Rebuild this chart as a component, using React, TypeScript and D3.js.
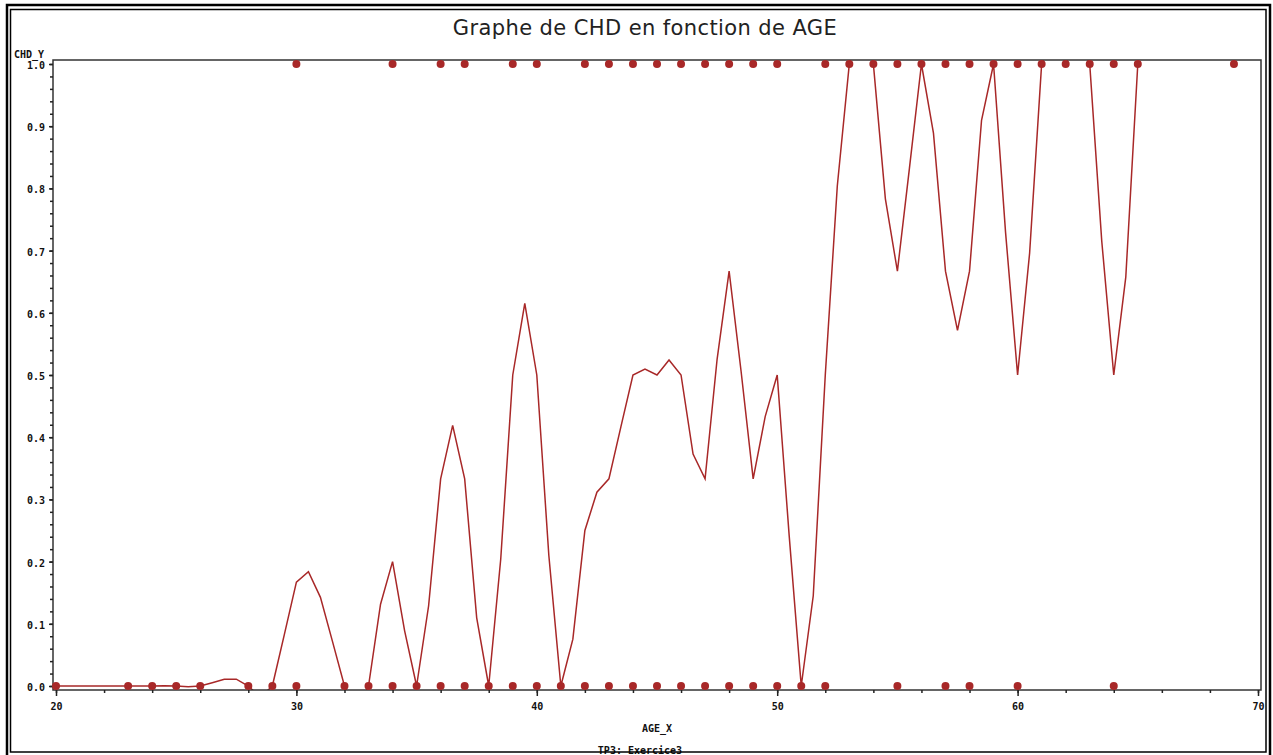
import * as d3 from "d3";
import { useEffect, useRef } from "react";

// ages present in the data, and mean CHD at each age (the line)
const AGE_LEVELS = [20, 23, 24, 25, 26, 28, 29, 30, 32, 33, 34, 35, 36, 37, 38, 39, 40, 41, 42, 43, 44, 45, 46, 47, 48, 49, 50, 51, 52, 53, 54, 55, 56, 57, 58, 59, 60, 61, 62, 63, 64, 65, 69];
const CHD_MEAN = [0, 0, 0, 0, 0, 0, 0, 0.167, 0, 0, 0.2, 0, 0.333, 0.333, 0, 0.5, 0.5, 0, 0.25, 0.333, 0.5, 0.5, 0.5, 0.333, 0.667, 0.333, 0.5, 0, 0.5, 1, 1, 0.667, 1, 0.667, 0.667, 1, 0.5, 1, 1, 1, 0.5, 1, 1];

// ages with at least one observation CHD = 0 / CHD = 1
const AGE_CHD0 = [20, 23, 24, 25, 26, 28, 29, 30, 32, 33, 34, 35, 36, 37, 38, 39, 40, 41, 42, 43, 44, 45, 46, 47, 48, 49, 50, 51, 52, 55, 57, 58, 60, 64];
const AGE_CHD1 = [30, 34, 36, 37, 39, 40, 42, 43, 44, 45, 46, 47, 48, 49, 50, 52, 53, 54, 55, 56, 57, 58, 59, 60, 61, 62, 63, 64, 65, 69];

const X_TICKS = [20, 30, 40, 50, 60, 70];
const Y_TICKS = [0, 0.1, 0.2, 0.3, 0.4, 0.5, 0.6, 0.7, 0.8, 0.9, 1.0];

const W = 1273, H = 755;
const RED = "#a82828";
const TICK_FONT = "'DejaVu Sans Mono', monospace";

// natural cubic spline y(x), drawn as a polyline sampled every `step` px
// (like the old SAS interpol=spline output)
const curveSampledSpline = (step: number) => (context: any) => {
    let xs: number[] = [], ys: number[] = [];
    return {
        areaStart() {}, areaEnd() {},
        lineStart() { xs = []; ys = []; },
        point(x: number, y: number) { xs.push(+x); ys.push(+y); },
        lineEnd() {
            const n = xs.length;
            if (n < 2) return;
            const h = d3.range(n - 1).map(i => xs[i + 1] - xs[i]);
            const M = new Array(n).fill(0);
            // tridiagonal solve for the second derivatives
            const c: number[] = new Array(n).fill(0), dd: number[] = new Array(n).fill(0);
            for (let i = 1; i < n - 1; i++) {
                const a = h[i - 1], b = 2 * (h[i - 1] + h[i]), cc = h[i];
                const r = 6 * ((ys[i + 1] - ys[i]) / h[i] - (ys[i] - ys[i - 1]) / h[i - 1]);
                const m = b - a * c[i - 1];
                c[i] = cc / m;
                dd[i] = (r - a * dd[i - 1]) / m;
            }
            for (let i = n - 2; i >= 1; i--) M[i] = dd[i] - c[i] * M[i + 1];
            const S = (i: number, t: number) => {
                const hi = h[i], A = xs[i + 1] - t, B = t - xs[i];
                return M[i] * A * A * A / (6 * hi) + M[i + 1] * B * B * B / (6 * hi)
                    + (ys[i] / hi - M[i] * hi / 6) * A + (ys[i + 1] / hi - M[i + 1] * hi / 6) * B;
            };
            context.moveTo(xs[0], ys[0]);
            for (let i = 0; i < n - 1; i++) {
                const k = Math.max(1, Math.round(h[i] / step));
                for (let j = 1; j <= k; j++) {
                    const t = xs[i] + h[i] * j / k;
                    context.lineTo(t, j === k ? ys[i + 1] : S(i, t));
                }
            }
        }
    };
};

const App = () => {
    const ref = useRef<SVGSVGElement>(null);

    useEffect(() => {
        const svg = d3.select(ref.current);
        svg.selectAll("*").remove();

        const x = d3.scaleLinear().domain([20, 70]).range([56, 1258]);
        const y = d3.scaleLinear().domain([0, 1]).range([686, 64]);
        const frame = { left: 53, right: 1261, top: 60, bottom: 690 };

        svg.append("rect").attr("width", W).attr("height", H).attr("fill", "white");

        // title
        svg.append("text")
            .attr("x", 645).attr("y", 35)
            .attr("text-anchor", "middle")
            .style("font-family", "'DejaVu Sans', sans-serif")
            .style("font-size", "21px")
            .style("letter-spacing", "0.4px")
            .attr("fill", "#222")
            .text("Graphe de CHD en fonction de AGE");

        svg.append("clipPath").attr("id", "plotclip")
            .append("rect")
            .attr("x", frame.left).attr("y", frame.top)
            .attr("width", frame.right - frame.left)
            .attr("height", frame.bottom - frame.top);

        // spline through the means
        const line = d3.line<number>()
            .x((d, i) => x(AGE_LEVELS[i]))
            .y(d => y(d))
            .curve(curveSampledSpline((x(1) - x(0)) / 2) as any);

        svg.append("path")
            .datum(CHD_MEAN)
            .attr("clip-path", "url(#plotclip)")
            .attr("d", line)
            .attr("fill", "none")
            .attr("stroke", RED)
            .attr("stroke-width", 1.5);

        // frame
        svg.append("rect")
            .attr("x", frame.left).attr("y", frame.top)
            .attr("width", frame.right - frame.left)
            .attr("height", frame.bottom - frame.top)
            .attr("fill", "none")
            .attr("stroke", "#333")
            .attr("stroke-width", 1.5);

        // x axis
        const xMinor = svg.append("g").attr("transform", "translate(0," + frame.bottom + ")");
        d3.axisBottom(x).tickValues(d3.range(20, 71, 2)).tickSize(3).tickFormat(() => "")(xMinor);
        const xAxis = svg.append("g").attr("transform", "translate(0," + frame.bottom + ")");
        d3.axisBottom(x).tickValues(X_TICKS).tickSize(6).tickPadding(7).tickFormat(d3.format("d"))(xAxis);

        // y axis
        const yMinor = svg.append("g").attr("transform", "translate(" + frame.left + ",0)");
        d3.axisLeft(y).tickValues(d3.range(0, 1.001, 0.02)).tickSize(3).tickFormat(() => "")(yMinor);
        const yAxis = svg.append("g").attr("transform", "translate(" + frame.left + ",0)");
        d3.axisLeft(y).tickValues(Y_TICKS).tickSize(4).tickPadding(4).tickFormat(d3.format(".1f"))(yAxis);

        svg.selectAll(".domain").remove();
        svg.selectAll(".tick line").attr("stroke", "#222").attr("stroke-width", 1.5);
        svg.selectAll(".tick text")
            .attr("fill", "#111")
            .style("font-family", TICK_FONT)
            .style("font-size", "10px")
            .style("font-weight", "bold");
        yAxis.selectAll(".tick text").attr("dy", "0.45em");

        // axis labels
        svg.append("text")
            .attr("x", 14).attr("y", 58)
            .style("font-family", TICK_FONT)
            .style("font-size", "10px")
            .style("font-weight", "bold")
            .attr("fill", "#111")
            .text("CHD_Y");

        svg.append("text")
            .attr("x", 657).attr("y", 732)
            .attr("text-anchor", "middle")
            .style("font-family", TICK_FONT)
            .style("font-size", "10px")
            .style("font-weight", "bold")
            .attr("fill", "#111")
            .text("AGE_X");

        svg.append("text")
            .attr("x", 640).attr("y", 754)
            .attr("text-anchor", "middle")
            .style("font-family", TICK_FONT)
            .style("font-size", "10px")
            .style("font-weight", "bold")
            .attr("fill", "#111")
            .text("TP3: Exercice3");

        // observations
        svg.append("g").selectAll("circle.zero")
            .data(AGE_CHD0)
            .enter()
            .append("circle")
            .attr("cx", d => x(d))
            .attr("cy", y(0))
            .attr("r", 4)
            .attr("fill", RED);

        svg.append("g").selectAll("circle.one")
            .data(AGE_CHD1)
            .enter()
            .append("circle")
            .attr("cx", d => x(d))
            .attr("cy", y(1))
            .attr("r", 4)
            .attr("fill", RED);

        // double page border
        svg.append("rect")
            .attr("x", 10.5).attr("y", 9.5)
            .attr("width", 1255.5).attr("height", 742.5)
            .attr("fill", "none")
            .attr("stroke", "black")
            .attr("stroke-width", 1.5);
        svg.append("rect")
            .attr("x", 7).attr("y", 5)
            .attr("width", 1263).attr("height", 760)
            .attr("fill", "none")
            .attr("stroke", "black")
            .attr("stroke-width", 2.5);
    }, []);

    return (
        <svg ref={ref} width={W} height={H}
            style={{ position: "absolute", left: 0, top: 0, display: "block" }} />
    );
};

export default App;
